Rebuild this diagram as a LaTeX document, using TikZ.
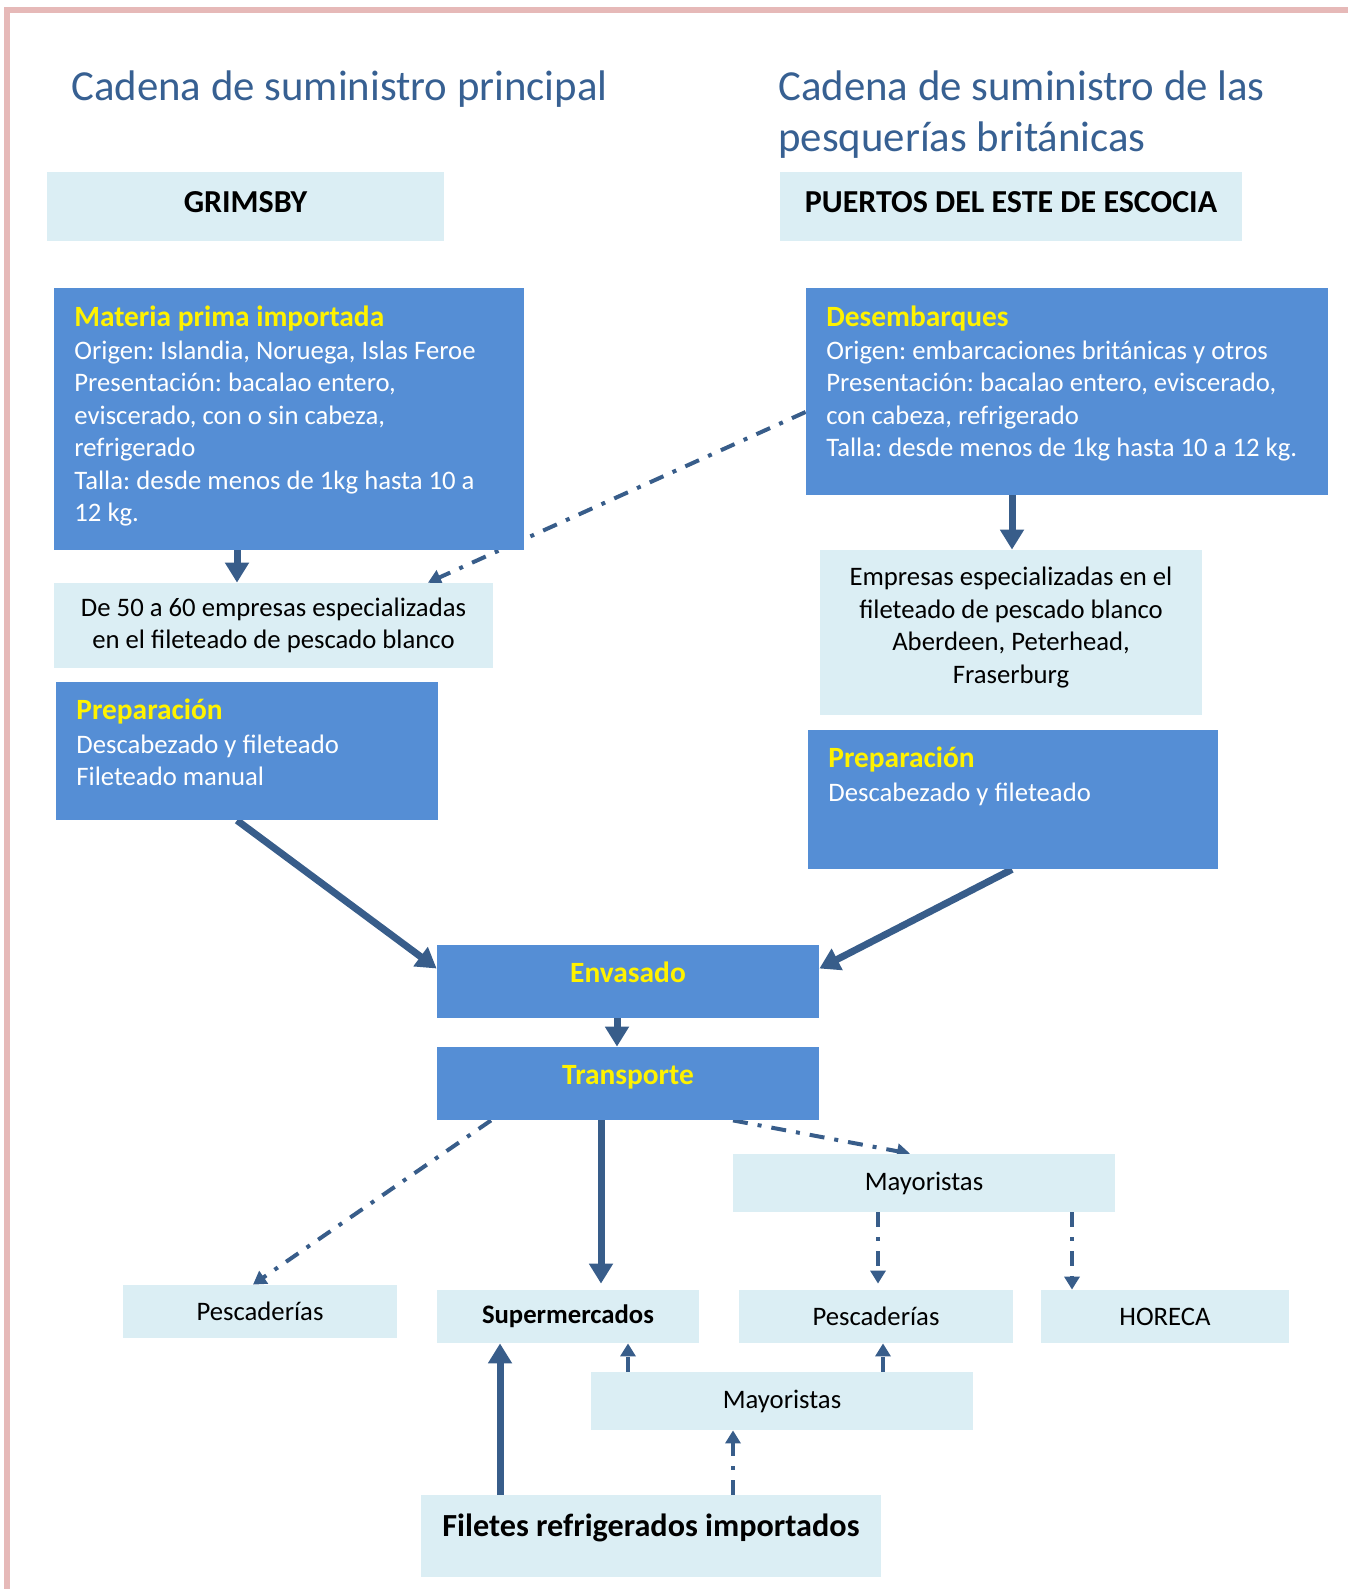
\documentclass[tikz,border=0pt]{standalone}
\usepackage{fontspec}
\setmainfont{Carlito}
\frenchspacing
\usetikzlibrary{arrows.meta,backgrounds}

\definecolor{framepink}{RGB}{230,185,184}
\definecolor{titleblue}{RGB}{55,96,146}
\definecolor{arrowblue}{RGB}{56,93,138}
\definecolor{lightfill}{RGB}{219,238,244}
\definecolor{boxblue}{RGB}{85,142,213}

\newcommand{\bodyfont}{\fontsize{13.35}{16.25}\selectfont}
\newcommand{\stepfont}{\fontsize{14.7}{16.25}\selectfont\bfseries}
\newcommand{\headfont}{\fontsize{16}{18}\selectfont\bfseries}
\newcommand{\boxlines}[2]{\parbox[t]{#1}{\raggedright #2}}
\newcommand{\stephead}[1]{{\stepfont\textcolor{yellow}{#1}}}

\tikzset{
  title/.style={inner sep=0pt, text=titleblue, font=\fontsize{21.4}{25.5}\selectfont},
  lbox/.style={fill=lightfill, inner sep=0pt, font=\bodyfont, align=center},
  bbox/.style={fill=boxblue, inner sep=0pt},
  btext/.style={anchor=base west, inner sep=0pt, text=white, font=\bodyfont},
  thk/.style={draw=arrowblue, line width=3.5pt, -{Triangle[width=11.5pt,length=10pt]}},
  dd/.style={draw=arrowblue, line width=2pt, dash pattern=on 7.5pt off 5pt on 2pt off 5pt,
    -{Triangle[width=7.5pt,length=6.5pt]}},
}

\begin{document}
\begin{tikzpicture}[x=0.5pt, y=-0.5pt]
\useasboundingbox (0,0) rectangle (1348,1589);

% frame
\draw[framepink, line width=3pt] (6.5,1589) -- (6.5,10) -- (1348,10);

% --- titles ---
\node[title, anchor=base west] (titleL) at (71,101) {Cadena de suministro principal};
\node[title, anchor=base west] (titleR) at (778,101)
  {\boxlines{330pt}{Cadena de suministro de las\\ pesquerías británicas}};

% --- ports ---
\node[lbox, font=\headfont, minimum width=198.5pt, minimum height=34.5pt,
  text height=11pt, text depth=4.5pt] (grim) at (245.5,206.5) {GRIMSBY};
\node[lbox, font=\headfont, minimum width=231pt, minimum height=34.5pt,
  text height=11pt, text depth=4.5pt] (puer) at (1011,206.5) {PUERTOS DEL ESTE DE ESCOCIA};

% --- raw material ---
\node[bbox, minimum width=235pt, minimum height=131pt] (mat) at (289,419) {};
\node[btext] (matT) at (74,326) {\boxlines{240pt}{%
  \stephead{Materia prima importada}\\[0.25pt]
  Origen: Islandia, Noruega, Islas Feroe\\
  Presentación: bacalao entero,\\
  eviscerado, con o sin cabeza,\\
  refrigerado\\
  Talla: desde menos de 1kg hasta 10 a\\
  12 kg.}};

\node[bbox, minimum width=261pt, minimum height=103.5pt] (des) at (1067,391.5) {};
\node[btext] (desT) at (826,326) {\boxlines{260pt}{%
  \stephead{Desembarques}\\[0.25pt]
  Origen: embarcaciones británicas y otros\\
  Presentación: bacalao entero, eviscerado,\\
  con cabeza, refrigerado\\
  Talla: desde menos de 1kg hasta 10 a 12 kg.}};

% --- filleting firms ---
\node[lbox, minimum width=219.5pt, minimum height=42.5pt] (emp1) at (273.5,625.5)
  {De 50 a 60 empresas especializadas\\ en el fileteado de pescado blanco};
\node[lbox, minimum width=191pt, minimum height=82.5pt] (emp2) at (1011,632.5) {};
\node[lbox, fill=none] (emp2T) at (1011,627.5)
  {Empresas especializadas en el\\ fileteado de pescado blanco\\ Aberdeen, Peterhead,\\ Fraserburg};

% --- preparation ---
\node[bbox, minimum width=191pt, minimum height=69pt] (prep1) at (247,751) {};
\node[btext] (prep1T) at (76,719.5) {\boxlines{180pt}{%
  \stephead{Preparación}\\[0.5pt]
  Descabezado y fileteado\\
  Fileteado manual}};

\node[bbox, minimum width=205pt, minimum height=69.5pt] (prep2) at (1013,799.5) {};
\node[btext] (prep2T) at (828,767.5) {\boxlines{190pt}{%
  \stephead{Preparación}\\[0.75pt]
  Descabezado y fileteado}};

% --- packing and transport ---
\node[bbox, font=\stepfont, text=yellow, minimum width=191pt, minimum height=36.5pt,
  text height=5.5pt, text depth=4.5pt] (env) at (628,981.5) {Envasado};
\node[bbox, font=\stepfont, text=yellow, minimum width=191pt, minimum height=36.5pt,
  text height=5.5pt, text depth=4.5pt] (tra) at (628,1083.5) {Transporte};

% --- distribution ---
\node[lbox, minimum width=191pt, minimum height=29pt] (may1) at (924,1183) {Mayoristas};
\node[lbox, minimum width=137pt, minimum height=26.5pt] (pes1) at (260,1311.5) {Pescaderías};
\node[lbox, font=\bodyfont\bfseries, minimum width=131pt, minimum height=26.5pt] (sup) at (568,1316.5) {Supermercados};
\node[lbox, minimum width=137pt, minimum height=26.5pt] (pes2) at (876,1316.5) {Pescaderías};
\node[lbox, minimum width=124pt, minimum height=26.5pt] (hor) at (1165,1316.5) {HORECA};
\node[lbox, minimum width=191pt, minimum height=29pt] (may2) at (782,1401) {Mayoristas};
\node[lbox, font=\fontsize{16.1}{18}\selectfont\bfseries, minimum width=230pt, minimum height=41pt,
  text height=7pt, text depth=7pt] (fil) at (651,1536) {Filetes refrigerados importados};

% --- connectors ---
\begin{scope}[on background layer]
\draw[thk] (237,0 |- mat.south) -- (237,0 |- emp1.north);
\draw[dd] (des.west |- 0,412) -- (428,0 |- emp1.north);
\draw[thk] (1012,0 |- des.south) -- (1012,0 |- emp2.north);
\draw[thk] (237,0 |- prep1.south) -- ([yshift=6.5pt]env.west);
\draw[thk] (1012,0 |- prep2.south) -- ([yshift=6.5pt]env.east);
\draw[thk] (617,0 |- env.south) -- (617,0 |- tra.north);
\draw[dd] (491,0 |- tra.south) -- (253,0 |- pes1.north);
\draw[thk] (601,0 |- tra.south) -- ([yshift=3pt]sup.north -| 601,0);
\draw[dd] (733,0 |- tra.south) -- (910,0 |- may1.north);
\draw[dd] (878,0 |- may1.south) -- ([yshift=3pt]pes2.north -| 878,0);
\draw[dd] (1072,0 |- may1.south) -- (1072,0 |- hor.north);
\draw[dd] (628,0 |- may2.north) -- (628,0 |- sup.south);
\draw[dd] (883,0 |- may2.north) -- (883,0 |- pes2.south);
\draw[thk] (500,0 |- fil.north) -- (500,0 |- sup.south);
\draw[dd] (733,0 |- fil.north) -- (733,0 |- may2.south);
\end{scope}
\end{tikzpicture}
\end{document}
